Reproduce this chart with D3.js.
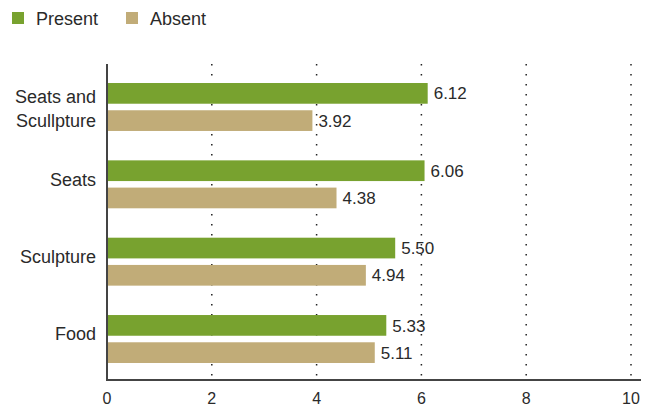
<!DOCTYPE html>
<html>
<head>
<meta charset="utf-8">
<script src="https://cdn.jsdelivr.net/npm/d3@7"></script>
<style>
  body { margin: 0; background: #fff; }
  text { font-family: "Liberation Sans", Arial, sans-serif; fill: #2a2a2a; }
</style>
</head>
<body>
<div id="chart"></div>
<script>
// data
var categories = ["Seats and Sculpture", "Seats", "Sculpture", "Food"];
var present = [6.12, 6.06, 5.50, 5.33];
var absent = [3.92, 4.38, 4.94, 5.11];
var series = ["Present", "Absent"];
var xTicks = [0, 2, 4, 6, 8, 10];

var width = 645;
var height = 409;
var colors = { Present: "#78a22f", Absent: "#c1ac78" };

var svg = d3.select("#chart")
	.append("svg")
	.attr("width", width)
	.attr("height", height);

// scales
var x = d3.scaleLinear().domain([0, 10]).range([107, 631]);
var y = d3.scaleBand().domain(categories).range([66, 380])
	.paddingInner(0.38).paddingOuter(0.22);
var ySub = d3.scaleBand().domain(series).range([0, y.bandwidth()]).paddingInner(0.24);

// dotted grid lines
svg.append("g")
	.selectAll("line")
	.data(xTicks.slice(1))
	.enter().append("line")
	.attr("x1", function(d) { return x(d); })
	.attr("x2", function(d) { return x(d); })
	.attr("y1", 64)
	.attr("y2", 380)
	.attr("stroke", "#222")
	.attr("stroke-width", 1.5)
	.attr("stroke-dasharray", "1.5,8.5");

// bars
var rows = categories.map(function(c, i) {
	return { cat: c, values: [{ s: "Present", v: present[i] }, { s: "Absent", v: absent[i] }] };
});

var group = svg.append("g").selectAll("g")
	.data(rows)
	.enter().append("g")
	.attr("transform", function(d) { return "translate(0," + y(d.cat) + ")"; });

group.selectAll("rect")
	.data(function(d) { return d.values; })
	.enter().append("rect")
	.attr("x", x(0))
	.attr("y", function(d) { return ySub(d.s); })
	.attr("width", function(d) { return x(d.v) - x(0); })
	.attr("height", ySub.bandwidth())
	.attr("fill", function(d) { return colors[d.s]; });

group.selectAll("text.val")
	.data(function(d) { return d.values; })
	.enter().append("text")
	.attr("class", "val")
	.attr("x", function(d) { return x(d.v) + 6; })
	.attr("y", function(d) { return ySub(d.s) + ySub.bandwidth() / 2; })
	.attr("dy", "0.36em")
	.attr("font-size", 17)
	.text(function(d) { return d.v.toFixed(2); });

// category labels, wrapped on two lines when long
group.append("text")
	.attr("text-anchor", "end")
	.attr("font-size", 18)
	.attr("x", 96)
	.each(function(d) {
		var t = d3.select(this);
		var lines = d.cat === "Seats and Sculpture" ? ["Seats and", "Scullpture"] : [d.cat];
		var mid = y.bandwidth() / 2 + (lines.length > 1 ? 2 : -5);
		lines.forEach(function(l, i) {
			t.append("tspan")
				.attr("x", 96)
				.attr("y", mid + (i - (lines.length - 1) / 2) * 24)
				.attr("dy", "0.36em")
				.text(l);
		});
	});

// axes
svg.append("line")
	.attr("x1", x(0)).attr("x2", x(0))
	.attr("y1", 64).attr("y2", 380)
	.attr("stroke", "#444").attr("stroke-width", 2);
svg.append("line")
	.attr("x1", x(0) - 1).attr("x2", 641)
	.attr("y1", 380).attr("y2", 380)
	.attr("stroke", "#444").attr("stroke-width", 2);

svg.append("g").selectAll("text")
	.data(xTicks)
	.enter().append("text")
	.attr("x", function(d) { return x(d); })
	.attr("y", 404)
	.attr("text-anchor", "middle")
	.attr("font-size", 16)
	.text(function(d) { return d; });

// legend
var legendX = [12, 126];
var legend = svg.append("g").selectAll("g")
	.data(series)
	.enter().append("g")
	.attr("transform", function(d, i) { return "translate(" + legendX[i] + ",12)"; });
legend.append("rect")
	.attr("width", 12).attr("height", 12)
	.attr("fill", function(d) { return colors[d]; });
legend.append("text")
	.attr("x", 24)
	.attr("y", 12.5)
	.attr("font-size", 18)
	.text(function(d) { return d; });
</script>
</body>
</html>
